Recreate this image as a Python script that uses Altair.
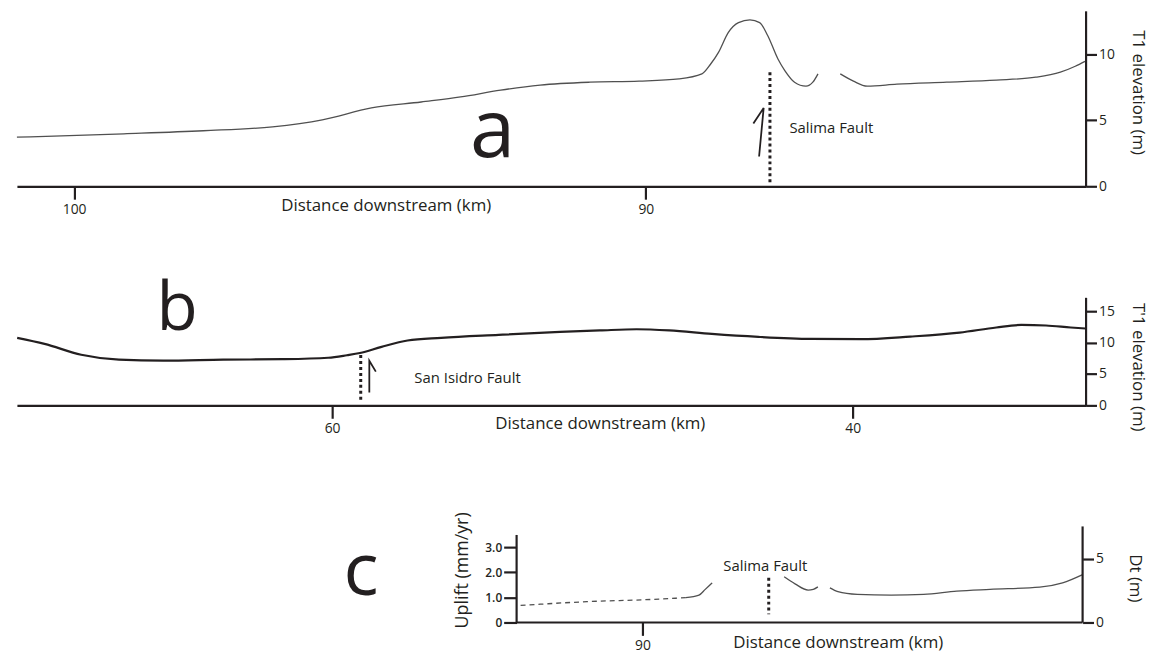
import altair as alt
import pandas as pd

FONT = "Open Sans"
INK = "#231f20"
GREY = "#505050"

# ---------------- Panel a : T1 elevation ----------------
A_DIST = [101.0, 99.13, 97.74, 96.53, 95.66, 94.80, 93.93, 93.24, 92.54, 91.85, 90.98, 90.12,
          89.42, 89.02, 88.87, 88.73, 88.56, 88.38, 88.18, 88.01, 87.87, 87.69, 87.57, 87.40,
          87.20, 87.08, 86.99,
          86.60, 86.37, 86.13, 85.61, 84.74, 83.87, 83.18, 82.75, 82.49, 82.32]
A_ELEV = [3.72, 3.98, 4.21, 4.51, 5.04, 5.94, 6.39, 6.77, 7.29, 7.67, 7.89, 7.97,
          8.14, 8.52, 9.25, 10.15, 11.65, 12.41, 12.61, 12.41, 11.43, 9.65, 8.77, 7.89,
          7.59, 7.89, 8.52,
          8.52, 7.97, 7.59, 7.74, 7.89, 8.05, 8.27, 8.65, 9.10, 9.47]
A_SEG = [1] * 27 + [2] * 10
A_XTICKS = [100, 90]
A_YTICKS = [0, 5, 10]
A_FAULT = [87.83]
A_FAULT_TOP = [8.65]
A_FAULT_BOTTOM = [0.2]
A_ARROW_DIST = [88.12, 87.94, 88.02]
A_ARROW_ELEV = [4.76, 5.94, 2.26]
A_LABEL = ["Salima Fault"]
A_LABEL_DIST = [87.49]
A_LABEL_ELEV = [4.38]

# ---------------- Panel b : T'1 elevation ----------------
B_DIST = [72.1, 71.05, 69.64, 68.19, 66.48, 64.19, 61.90, 60.15, 59.43, 58.93, 58.10, 57.10,
          55.81, 53.60, 51.24, 49.71, 48.30, 47.05, 45.41, 43.62, 41.60, 39.70, 37.79, 35.89,
          34.48, 33.52, 32.57, 31.62, 31.05]
B_ELEV = [10.75, 9.79, 8.06, 7.27, 7.11, 7.27, 7.35, 7.58, 7.98, 8.33, 9.32, 10.32,
          10.74, 11.22, 11.69, 11.93, 12.12, 11.93, 11.37, 10.90, 10.58, 10.54, 10.95, 11.58,
          12.40, 12.80, 12.72, 12.40, 12.24]
B_XTICKS = [60, 40]
B_YTICKS = [0, 5, 10, 15]
B_FAULT = [58.90]
B_FAULT_TOP = [8.0]
B_FAULT_BOTTOM = [0.4]
B_ARROW_DIST = [58.57, 58.57, 58.32]
B_ARROW_ELEV = [2.05, 7.11, 5.37]
B_LABEL = ["San Isidro Fault"]
B_LABEL_DIST = [56.84]
B_LABEL_ELEV = [4.42]

# ---------------- Panel c : uplift / Dt ----------------
C_DASH_DIST = [92.13, 90.97, 89.82, 89.24]
C_DASH_UPL = [0.68, 0.83, 0.92, 0.99]
C_DIST = [89.24, 89.01, 88.90, 88.78,
          87.52, 87.33, 87.10, 87.01, 86.93,
          86.72, 86.58, 86.24, 85.65, 85.08, 84.50, 83.92, 83.05, 82.65, 82.30]
C_UPL = [0.99, 1.09, 1.32, 1.58,
         1.82, 1.54, 1.29, 1.32, 1.42,
         1.38, 1.23, 1.12, 1.09, 1.12, 1.25, 1.32, 1.41, 1.58, 1.91]
C_SEG = [1] * 4 + [2] * 5 + [3] * 10
C_XTICKS = [90]
C_UPL_TICKS = [0, 1, 2, 3]
C_DT_TICKS = [0, 5]
C_FAULT = [87.79]
C_FAULT_TOP = [1.78]
C_FAULT_BOTTOM = [0.33]
C_LABEL = ["Salima Fault"]
C_LABEL_DIST = [87.85]
C_LABEL_UPL = [2.25]
C_LEFT_EDGE = 92.20
C_RIGHT_EDGE = 82.30
C_LEFT_TOP = 3.49
C_RIGHT_TOP = 3.83

PANEL_LETTERS = ["a", "b", "c"]
LETTER_DIST = [92.68, 65.95, 94.92]
LETTER_Y = [2.2, 12.0, 1.11]
LETTER_SIZE = [82, 68, 74]

# ---------------- scales ----------------
A_XDOM = [101.0, 82.31]
A_YDOM = [0, 13.3]
B_XDOM = [72.11, 31.05]
B_YDOM = [0, 17.2]
C_XDOM = [100.94, 82.30]
C_YDOM = [0, 4.23]
C_DTDOM = [0, 8.36]

XTITLE = "Distance downstream (km)"


def sc(dom):
    return alt.Scale(domain=dom, nice=False, zero=False)


def bottom_axis(values, title_x, title_y, domain=True):
    return alt.Axis(orient="bottom", values=values, tickSize=13, tickWidth=2.2,
                    labelPadding=3, labelFontSize=14, title=XTITLE, titleFontSize=17,
                    titleX=title_x, titleY=title_y, titleAlign="center",
                    titleBaseline="middle", domain=domain, grid=False)


def right_axis(values, title, title_x, title_y, domain=True):
    return alt.Axis(orient="right", values=values, tickSize=11, tickWidth=2.2,
                    labelPadding=2, labelFontSize=14, title=title,
                    titleFontSize=17, titleAngle=90, titleX=title_x, titleY=title_y,
                    titleAlign="center", titleBaseline="middle", domain=domain, grid=False)


def fault_layer(dist, top, bottom, X, Y):
    df = pd.DataFrame({"d": dist, "e": top, "e2": bottom})
    return alt.Chart(df).mark_rule(color=INK, strokeWidth=3, strokeDash=[3, 3]).encode(
        x=X, y=Y, y2="e2:Q")


def arrow_layer(dist, elev, X, Y):
    df = pd.DataFrame({"d": dist, "e": elev, "i": list(range(len(dist)))})
    return alt.Chart(df).mark_line(color=INK, strokeWidth=1.8).encode(
        x=X, y=Y, order="i:Q")


def text_layer(labels, dist, elev, X, Y, size, align="left", baseline="middle"):
    df = pd.DataFrame({"d": dist, "e": elev, "t": labels})
    return alt.Chart(df).mark_text(font=FONT, fontSize=size, color=INK, align=align,
                                   baseline=baseline).encode(x=X, y=Y, text="t:N")


# ---------------- Panel a ----------------
XA = alt.X("d:Q", scale=sc(A_XDOM), axis=bottom_axis(A_XTICKS, 372, 19))
YA = alt.Y("e:Q", scale=sc(A_YDOM), axis=right_axis(A_YTICKS, "T1 elevation (m)", 52, 82))
df_a = pd.DataFrame({"d": A_DIST, "e": A_ELEV, "seg": A_SEG, "i": list(range(len(A_DIST)))})
a_line = alt.Chart(df_a).mark_line(color=GREY, strokeWidth=1.3, interpolate="monotone").encode(
    x=XA, y=YA, detail="seg:N", order="i:Q")
panel_a = alt.layer(
    a_line,
    fault_layer(A_FAULT, A_FAULT_TOP, A_FAULT_BOTTOM, XA, YA),
    arrow_layer(A_ARROW_DIST, A_ARROW_ELEV, XA, YA),
    text_layer(A_LABEL, A_LABEL_DIST, A_LABEL_ELEV, XA, YA, 15),
    text_layer(PANEL_LETTERS[0:1], LETTER_DIST[0:1], LETTER_Y[0:1], XA, YA, LETTER_SIZE[0],
               align="center", baseline="alphabetic"),
).properties(width=1078, height=177)

# ---------------- Panel b ----------------
XB = alt.X("d:Q", scale=sc(B_XDOM), axis=bottom_axis(B_XTICKS, 588, 18))
YB = alt.Y("e:Q", scale=sc(B_YDOM), axis=right_axis(B_YTICKS, "T'1 elevation (m)", 52, 70))
df_b = pd.DataFrame({"d": B_DIST, "e": B_ELEV, "i": list(range(len(B_DIST)))})
b_line = alt.Chart(df_b).mark_line(color=INK, strokeWidth=2.2, interpolate="monotone").encode(
    x=XB, y=YB, order="i:Q")
panel_b = alt.layer(
    b_line,
    fault_layer(B_FAULT, B_FAULT_TOP, B_FAULT_BOTTOM, XB, YB),
    arrow_layer(B_ARROW_DIST, B_ARROW_ELEV, XB, YB),
    text_layer(B_LABEL, B_LABEL_DIST, B_LABEL_ELEV, XB, YB, 15),
    text_layer(PANEL_LETTERS[1:2], LETTER_DIST[1:2], LETTER_Y[1:2], XB, YB, LETTER_SIZE[1],
               align="center", baseline="alphabetic"),
).properties(width=1078, height=109)

# ---------------- Panel c ----------------
left_axis = alt.Axis(orient="left", offset=-504, domain=False, values=C_UPL_TICKS,
                     labelExpr="datum.value == 0 ? '0' : format(datum.value, '.1f')",
                     tickSize=13, tickWidth=2.2, labelPadding=2, labelFontSize=12,
                     labelFontWeight=600, title="Uplift (mm/yr)", titleFontSize=18,
                     titleAngle=270, titleX=-54, titleY=54, titleAlign="center",
                     titleBaseline="middle", grid=False)
XC = alt.X("d:Q", scale=sc(C_XDOM), axis=bottom_axis(C_XTICKS, 828, 20, domain=False))
YC = alt.Y("e:Q", scale=sc(C_YDOM), axis=left_axis)

df_c = pd.DataFrame({"d": C_DIST, "e": C_UPL, "seg": C_SEG, "i": list(range(len(C_DIST)))})
df_cd = pd.DataFrame({"d": C_DASH_DIST, "e": C_DASH_UPL, "i": list(range(len(C_DASH_DIST)))})
c_line = alt.Chart(df_c).mark_line(color=GREY, strokeWidth=1.3, interpolate="monotone").encode(
    x=XC, y=YC, detail="seg:N", order="i:Q")
c_dash = alt.Chart(df_cd).mark_line(color=GREY, strokeWidth=1.3, strokeDash=[5, 4],
                                    interpolate="monotone").encode(x=XC, y=YC, order="i:Q")
df_frame_v = pd.DataFrame({"d": [C_LEFT_EDGE, C_RIGHT_EDGE], "e": [0, 0],
                           "e2": [C_LEFT_TOP, C_RIGHT_TOP]})
c_frame_v = alt.Chart(df_frame_v).mark_rule(color=INK, strokeWidth=2.2).encode(
    x=XC, y=YC, y2="e2:Q")
df_frame_h = pd.DataFrame({"d": [C_LEFT_EDGE], "d2": [C_RIGHT_EDGE], "e": [0]})
c_frame_h = alt.Chart(df_frame_h).mark_rule(color=INK, strokeWidth=2.2).encode(
    x=XC, x2="d2:Q", y=YC)
c_main = alt.layer(
    c_line, c_dash, c_frame_v, c_frame_h,
    fault_layer(C_FAULT, C_FAULT_TOP, C_FAULT_BOTTOM, XC, YC),
    text_layer(C_LABEL, C_LABEL_DIST, C_LABEL_UPL, XC, YC, 15, align="center"),
    text_layer(PANEL_LETTERS[2:3], LETTER_DIST[2:3], LETTER_Y[2:3], XC, YC, LETTER_SIZE[2],
               align="center", baseline="alphabetic"),
)
df_dt = pd.DataFrame({"d": [90, 90], "dt": C_DT_TICKS})
c_dt = alt.Chart(df_dt).mark_point(opacity=0).encode(
    x=XC,
    y=alt.Y("dt:Q", scale=sc(C_DTDOM),
            axis=right_axis(C_DT_TICKS, "Dt (m)", 52, 62, domain=False)))
panel_c = alt.layer(c_main, c_dt).resolve_scale(y="independent").properties(
    width=1075, height=107)

chart = alt.vconcat(panel_a, panel_b, panel_c, spacing=112, bounds="flush").properties(
    padding={"left": 4, "top": 0, "right": 5, "bottom": 5}
).configure_view(stroke=None).configure_axis(
    domainColor=INK, tickColor=INK, labelColor=INK, titleColor=INK,
    labelFont=FONT, titleFont=FONT, titleFontWeight="normal", domainWidth=2.2,
    grid=False
)

chart.save("out.html", embed_options={"renderer": "svg", "actions": False})
